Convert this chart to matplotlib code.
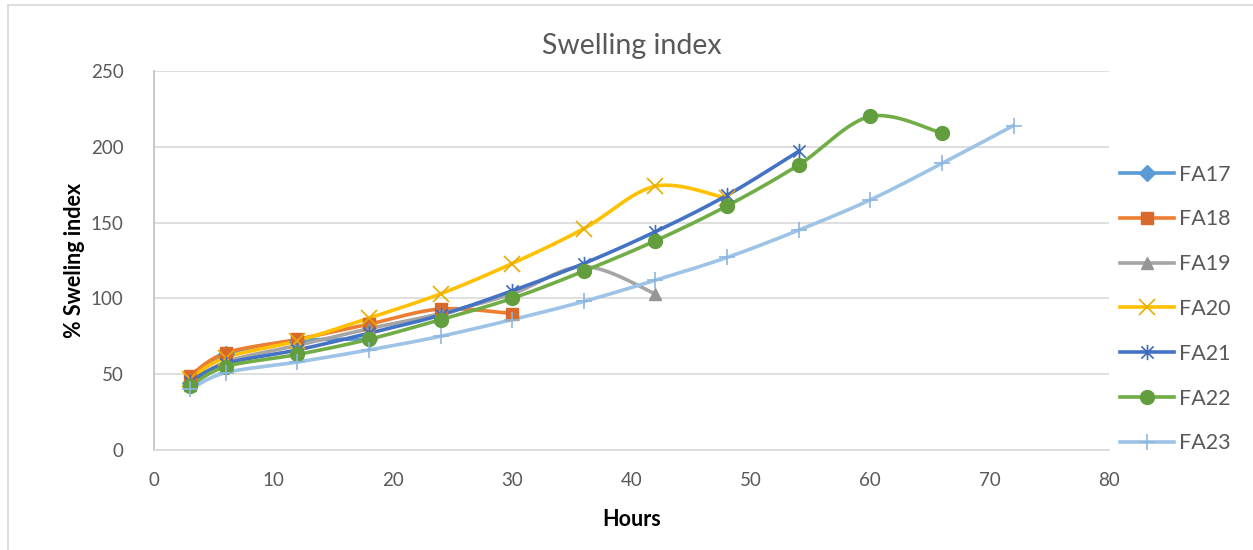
import numpy as np
import matplotlib
matplotlib.use("Agg")
import matplotlib.pyplot as plt
from matplotlib.path import Path
from matplotlib.lines import Line2D

# Sampling times (hours) and swelling index (%) per formulation
hours = [3, 6, 12, 18, 24, 30, 36, 42, 48, 54, 60, 66, 72]
fa17 = [44, 63, 72, 73]
fa18 = [49, 64, 73, 83, 93, 90]
fa19 = [43, 58, 69, 80, 90, 103, 121, 103]
fa20 = [47, 61, 72, 87, 103, 123, 146, 174, 166]
fa21 = [45, 57, 66, 77, 89, 105, 123, 144, 168, 197]
fa22 = [42, 55, 63, 73, 86, 100, 118, 138, 161, 188, 220, 209]
fa23 = [40, 51, 58, 66, 75, 86, 98, 112, 127, 145, 165, 189, 214]

names = ["FA17", "FA18", "FA19", "FA20", "FA21", "FA22", "FA23"]
series = [fa17, fa18, fa19, fa20, fa21, fa22, fa23]
colors = ["#5B9BD5", "#ED7D31", "#A5A5A5", "#FFC000", "#4472C4", "#70AD47", "#9DC3E6"]
mcolors = ["#5B9BD5", "#D9692A", "#959595", "#E6AC00", "#3F6BBA", "#629E3E", "#8DB6E0"]

x_ticks = [0, 10, 20, 30, 40, 50, 60, 70, 80]
y_ticks = [0, 50, 100, 150, 200, 250]

# Star marker: vertical bar crossed by an X
star = Path([(0, -1), (0, 1), (-0.8, -0.8), (0.8, 0.8), (-0.8, 0.8), (0.8, -0.8)],
            [Path.MOVETO, Path.LINETO, Path.MOVETO, Path.LINETO, Path.MOVETO, Path.LINETO])
markers = ["D", "s", "^", "x", star, "o", "+"]
msizes = [8, 9, 9, 11, 11, 10, 12]
medge = [1, 1, 1, 1.2, 1.2, 1, 1.2]


def smooth(x, y, n=30):
    """Cardinal-spline smoothing through every point (Bezier with 1/6 tangents)."""
    x = np.asarray(x, float)
    y = np.asarray(y, float)
    pts = np.column_stack([x, y])
    m = len(pts)
    if m < 3:
        return x, y
    out = []
    t = np.linspace(0, 1, n)[:, None]
    for i in range(m - 1):
        p0 = pts[max(i - 1, 0)]
        p1 = pts[i]
        p2 = pts[i + 1]
        p3 = pts[min(i + 2, m - 1)]
        c1 = p1 + (p2 - p0) / 6.0
        c2 = p2 - (p3 - p1) / 6.0
        seg = ((1 - t) ** 3) * p1 + 3 * ((1 - t) ** 2) * t * c1 + 3 * (1 - t) * t ** 2 * c2 + t ** 3 * p2
        out.append(seg if i == 0 else seg[1:])
    seg = np.vstack(out)
    return seg[:, 0], seg[:, 1]


plt.rcParams["font.family"] = ["Lato", "DejaVu Sans"]

fig = plt.figure(figsize=(12.53, 5.5), dpi=100)
ax = fig.add_axes([154 / 1253, 1 - 450 / 550, (1109 - 154) / 1253, (450 - 71) / 550])

handles = []
for name, vals, c, mc, mk, ms, me in zip(names, series, colors, mcolors, markers, msizes, medge):
    xs = hours[:len(vals)]
    sx, sy = smooth(xs, vals)
    ax.plot(sx, sy, color=c, lw=2.6, solid_capstyle="round", zorder=2)
    ax.plot(xs, vals, linestyle="none", marker=mk, markersize=ms,
            markerfacecolor=mc, markeredgecolor=mc, markeredgewidth=me, zorder=3)
    handles.append(Line2D([0], [0], color=c, lw=2.6, marker=mk, markersize=ms,
                          markerfacecolor=mc, markeredgecolor=mc, markeredgewidth=me))

ax.set_xlim(0, 80)
ax.set_ylim(0, 250)
ax.set_xticks(x_ticks)
ax.set_yticks(y_ticks)
ax.tick_params(length=0, labelsize=13.5, colors="#595959")
ax.tick_params(axis="x", pad=16)
ax.tick_params(axis="y", pad=22)
ax.grid(axis="y", color="#D9D9D9", lw=1.2)
ax.set_axisbelow(True)
for s in ["top", "right"]:
    ax.spines[s].set_visible(False)
ax.spines["left"].set_color("#BFBFBF")
ax.spines["bottom"].set_color("#D9D9D9")
ax.spines["left"].set_linewidth(1.2)
ax.spines["bottom"].set_linewidth(1.2)

ax.set_title("Swelling index", fontsize=20.5, color="#595959", pad=12)
ax.set_xlabel("Hours", fontsize=15.5, fontweight="bold", color="black", labelpad=14)
ax.set_ylabel("% Sweling index", fontsize=15.5, fontweight="bold", color="black", labelpad=4)

leg = ax.legend(handles, names, loc="center left",
                bbox_to_anchor=(1120 / 1253, 1 - 309 / 550), bbox_transform=fig.transFigure,
                frameon=False, fontsize=15.5, labelcolor="#595959", borderaxespad=0,
                borderpad=0, handlelength=2.5, handletextpad=0.25, labelspacing=1.15)

# Chart-area border (left and top edges)
fig.add_artist(Line2D([8 / 1253, 8 / 1253], [0, 1 - 5 / 550], color="#D9D9D9", lw=1.2))
fig.add_artist(Line2D([8 / 1253, 1], [1 - 5 / 550, 1 - 5 / 550], color="#D9D9D9", lw=1.2))

fig.savefig("out.png", dpi=100)
